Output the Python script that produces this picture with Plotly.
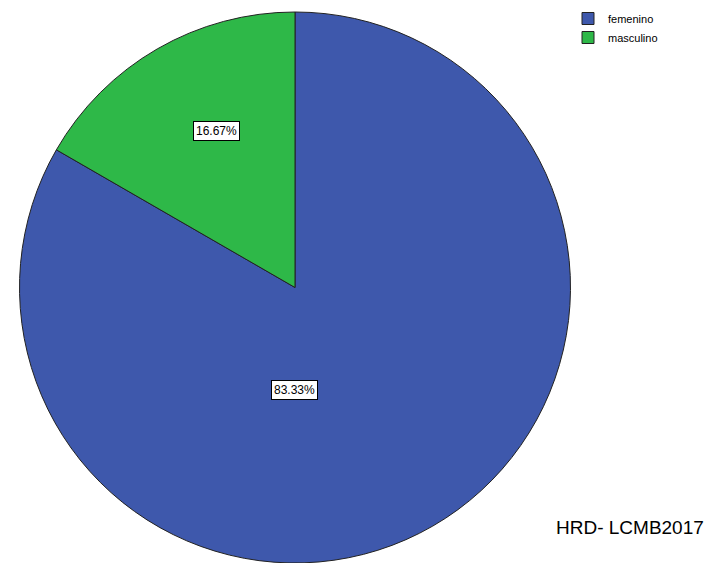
import plotly.graph_objects as go

categories = ["femenino", "masculino"]
values = [83.33, 16.67]
colors = ["#3E58AC", "#2EB848"]
label_pos = [(294, 390), (216, 131)]  # pixel centres of the value boxes
credit = "HRD- LCMB2017"

W, H = 706, 563
TOP = 12
PH = H - TOP
cx = 295
half = 290


def py2paper(py):
    return (H - py) / PH


fig = go.Figure()
fig.add_trace(go.Pie(
    labels=categories,
    values=values,
    sort=False,
    direction="clockwise",
    rotation=0,
    marker=dict(colors=colors, line=dict(color="#222222", width=1)),
    textinfo="none",
    hoverinfo="label+percent",
    domain=dict(x=[(cx - half) / W, (cx + half) / W], y=[0, 1]),
))

total = sum(values)
annotations = []
for v, (px, py) in zip(values, label_pos):
    annotations.append(dict(
        x=px / W, y=py2paper(py), xref="paper", yref="paper",
        xanchor="center", yanchor="middle",
        text=f"{v / total * 100:.2f}%", showarrow=False,
        font=dict(family="Liberation Sans, Arial", size=12, color="black"),
        bgcolor="white", bordercolor="black", borderwidth=1, borderpad=2,
    ))
annotations.append(dict(
    x=1, y=py2paper(527), xref="paper", yref="paper", xanchor="right", yanchor="middle",
    text=credit, showarrow=False,
    font=dict(family="Liberation Sans, Arial", size=19, color="black"),
))

fig.update_layout(
    width=W, height=H,
    margin=dict(l=0, r=0, t=TOP, b=0),
    paper_bgcolor="white",
    plot_bgcolor="white",
    showlegend=True,
    legend=dict(
        x=568 / W, y=1 + 8 / PH, xanchor="left", yanchor="top",
        font=dict(family="Liberation Sans, Arial", size=11, color="black"),
        bgcolor="rgba(0,0,0,0)", itemwidth=30, tracegroupgap=0,
    ),
    annotations=annotations,
)

fig.write_html("out.html")
